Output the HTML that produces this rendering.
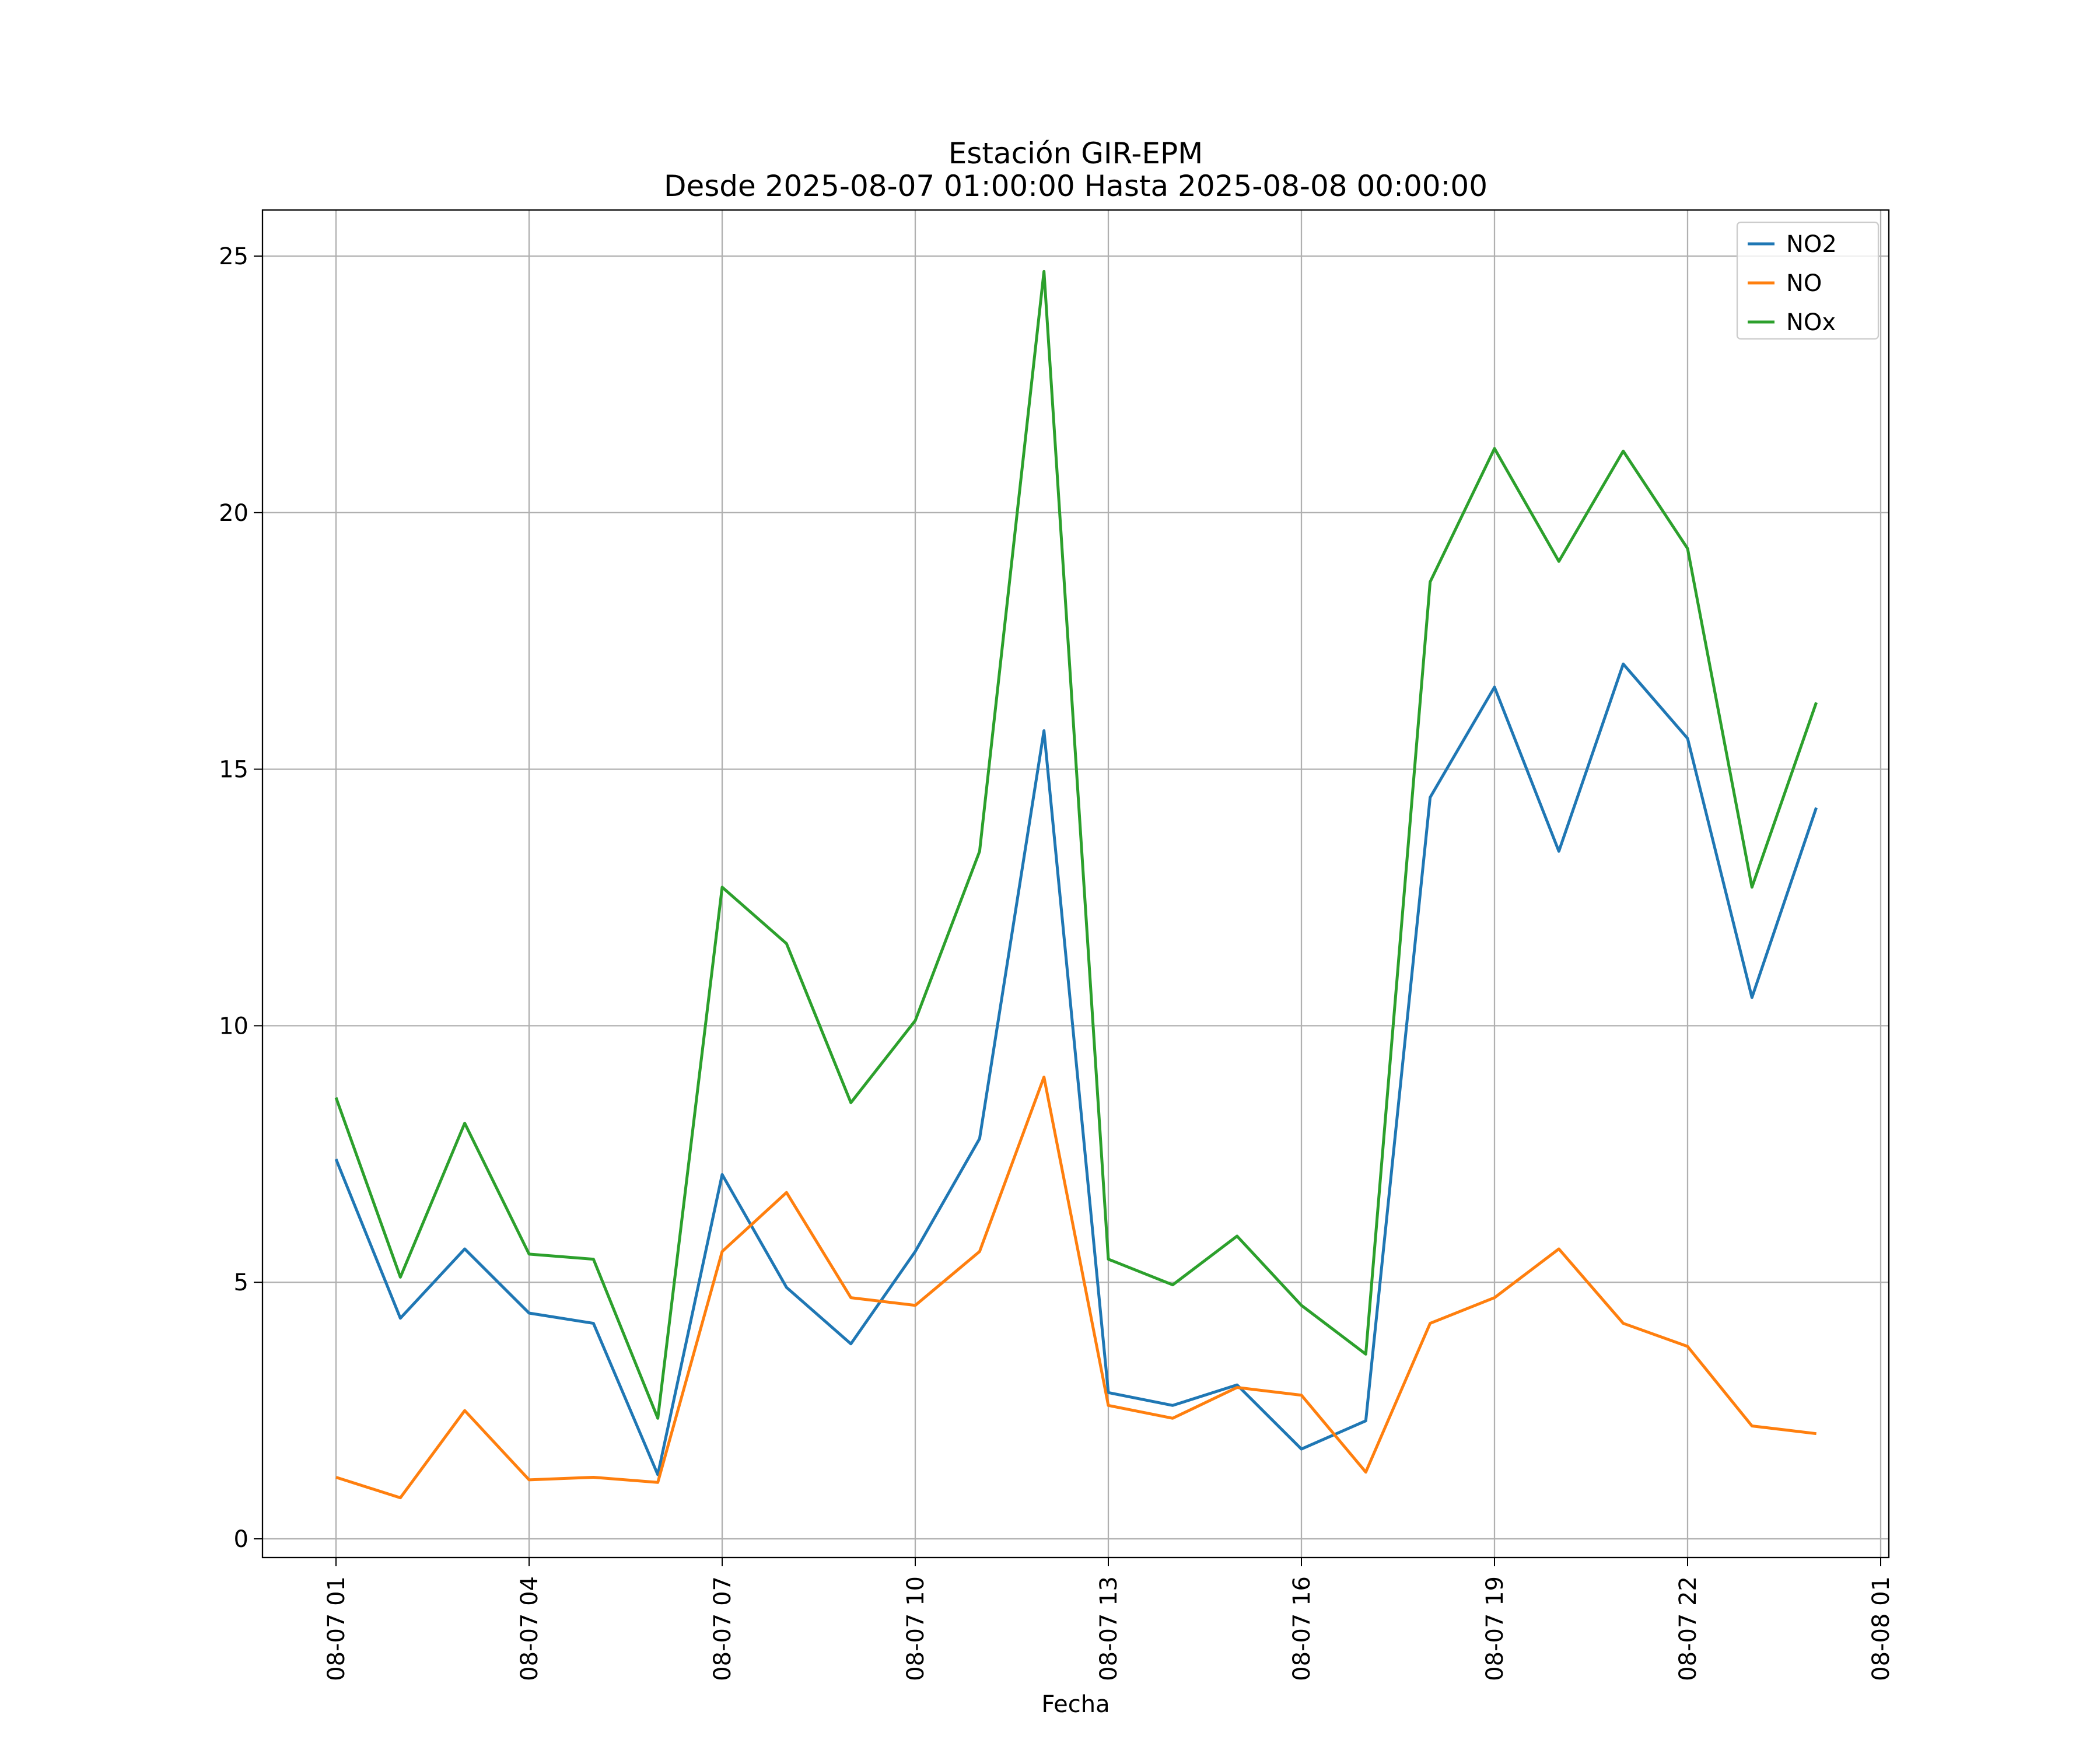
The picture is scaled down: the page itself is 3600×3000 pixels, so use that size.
<!DOCTYPE html>
<html><head><meta charset="utf-8"><style>html,body{margin:0;padding:0;background:#fff}svg{display:block}text{font-family:"DejaVu Sans","Liberation Sans",sans-serif;fill:#000}</style></head>
<body>
<svg id="chart" width="3600" height="3000" viewBox="0 0 3600 3000" xmlns="http://www.w3.org/2000/svg">
<rect width="3600" height="3000" fill="#fff"/>
<text x="1844" y="280" font-size="50" text-anchor="middle">Estación GIR-EPM</text>
<text x="1844" y="336" font-size="50" text-anchor="middle">Desde 2025-08-07 01:00:00 Hasta 2025-08-08 00:00:00</text>
<g id="grid"></g>
<g id="series"></g>
<rect x="450" y="360" width="2788" height="2310" fill="none" stroke="#000" stroke-width="2.3"/>
<g id="ticks"></g>
<text x="1844" y="2935" font-size="40" text-anchor="middle">Fecha</text>
<g>
<rect x="2978" y="381" width="242" height="200" rx="6" fill="#fff" fill-opacity="0.8" stroke="#ccc" stroke-width="2.3"/>
</g>
<g id="legend-items"></g>
</svg>
<script>
const hours = [1,2,3,4,5,6,7,8,9,10,11,12,13,14,15,16,17,18,19,20,21,22,23,24];
const no2 = [7.4,4.3,5.65,4.4,4.2,1.25,7.1,4.9,3.8,5.6,7.8,15.75,2.85,2.6,3.0,1.75,2.3,14.45,16.6,13.4,17.05,15.6,10.55,14.25];
const no = [1.2,0.8,2.5,1.15,1.2,1.1,5.6,6.75,4.7,4.55,5.6,9.0,2.6,2.35,2.95,2.8,1.3,4.2,4.7,5.65,4.2,3.75,2.2,2.05];
const nox = [8.6,5.1,8.1,5.55,5.45,2.35,12.7,11.6,8.5,10.1,13.4,24.7,5.45,4.95,5.9,4.55,3.6,18.65,21.25,19.05,21.2,19.3,12.7,16.3];
const yTicks = [0,5,10,15,20,25];
const xTicks = [1,4,7,10,13,16,19,22,25];
const xTickLabels = ["08-07 01","08-07 04","08-07 07","08-07 10","08-07 13","08-07 16","08-07 19","08-07 22","08-08 01"];
const seriesNames = ["NO2","NO","NOx"];
const seriesColors = ["#1f77b4","#ff7f0e","#2ca02c"];

const NS="http://www.w3.org/2000/svg";
const L=450,R=3238,T=360,B=2670;
const xs=h=>576+(h-1)*(3224-576)/24;
const ys=v=>2638-v*(2638-439)/25;
function mk(tag,attrs,parent){const e=document.createElementNS(NS,tag);for(const k in attrs)e.setAttribute(k,attrs[k]);parent.appendChild(e);return e;}
const grid=document.getElementById('grid'),ticks=document.getElementById('ticks'),ser=document.getElementById('series'),leg=document.getElementById('legend-items');
yTicks.forEach(v=>{
  const g=mk('line',{x1:L,x2:R,y1:ys(v),y2:ys(v),stroke:'#b0b0b0','stroke-width':2.3},grid);
  
  
  const t=mk('line',{x1:L-15,x2:L,y1:ys(v),y2:ys(v),stroke:'#000','stroke-width':2},ticks);
  
  
  const tx=mk('text',{x:L-24,y:ys(v)+14,'font-size':40,'text-anchor':'end'},ticks);
  tx.textContent=v;
  
  
});
xTicks.forEach((h,i)=>{
  const g=mk('line',{x1:xs(h),x2:xs(h),y1:T,y2:B,stroke:'#b0b0b0','stroke-width':2.3},grid);
  
  
  const t=mk('line',{x1:xs(h),x2:xs(h),y1:B,y2:B+15,stroke:'#000','stroke-width':2},ticks);
  
  
  const x=xs(h)+14,y=B+32;
  const tx=mk('text',{x:x,y:y,'font-size':40,'text-anchor':'end',transform:`rotate(-90 ${x} ${y})`},ticks);
  tx.textContent=xTickLabels[i];
  
  
});
[no2,no,nox].forEach((d,i)=>{
  const p=mk('polyline',{points:d.map((v,j)=>xs(hours[j])+','+ys(v)).join(' '),fill:'none',stroke:seriesColors[i],'stroke-width':5,'stroke-linejoin':'round'},ser);
  
  
  const y=418+i*67;
  const l=mk('line',{x1:2996,x2:3042,y1:y,y2:y,stroke:seriesColors[i],'stroke-width':5},leg);
  
  
  const t=mk('text',{x:3062,y:y+14,'font-size':40},leg);
  t.textContent=seriesNames[i];
  
  
});
</script>
</body></html>
